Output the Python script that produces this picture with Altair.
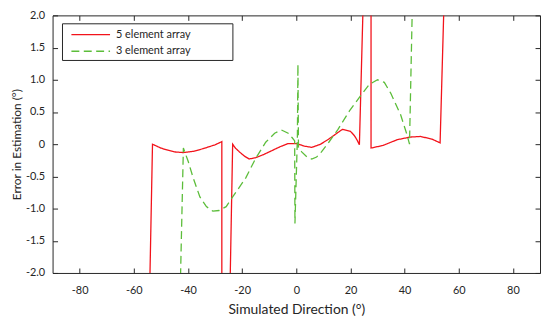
import altair as alt
import pandas as pd

names = ["5 element array", "3 element array"]
colors = ["#f2131b", "#5cbd3a"]

red_x = [-54.05, -53.1, -50, -47.8, -45, -41.7, -38, -34.4, -30, -27.5, -27.5,
         -24.4, -23.5, -22.5, -21, -19, -17.4, -15, -12, -10, -6, -3, 0, 3, 5.7,
         9, 12, 15, 17, 20, 21.5, 22.5, 23.3, 24.6, 27.6, 27.6, 32, 37.3, 42,
         45.8, 50, 53.1, 54.45]
red_y = [-2.05, 0.0, -0.06, -0.09, -0.12, -0.13, -0.11, -0.07, -0.01, 0.04, -2.05,
         -2.05, 0.0, -0.06, -0.12, -0.19, -0.23, -0.21, -0.16, -0.12, -0.04, 0.01, 0.01, -0.03, -0.05,
         0.0, 0.08, 0.17, 0.23, 0.2, 0.13, 0.06, -0.01, 2.05, 2.05, -0.06, -0.02, 0.07, 0.11,
         0.12, 0.08, 0.02, 2.05]

green_x = [-42.75, -41.7, -39.9, -38.1, -35.6, -33.2, -30.8, -28.5, -25.9, -23.5,
           -18.6, -15, -11.3, -8, -5.5, -3, -1.5, -0.6, -0.5, 0.4, 0.6, 0.8, 2, 4,
           5.7, 7.5, 9.3, 12, 15.4, 19.7, 23.9, 27, 30, 32.5, 34.9, 38.5, 41, 41.8, 42.8]
green_y = [-2.05, -0.06, -0.27, -0.52, -0.82, -0.97, -1.04, -1.03, -0.97, -0.82,
           -0.52, -0.22, 0.03, 0.17, 0.22, 0.17, 0.1, 0.05, -1.23, 0.1, 1.24, -0.05, -0.12, -0.2,
           -0.23, -0.2, -0.12, 0.03, 0.23, 0.52, 0.76, 0.93, 1.0, 0.96, 0.79, 0.46, 0.13, 0.0, 2.05]

x_ticks = [-80, -60, -40, -20, 0, 20, 40, 60, 80]
y_ticks = [-2.0, -1.5, -1.0, -0.5, 0.0, 0.5, 1.0, 1.5, 2.0]

rows = []
for i, (a, b) in enumerate(zip(red_x, red_y)):
    rows.append({"x": a, "y": b, "series": names[0], "i": i})
for i, (a, b) in enumerate(zip(green_x, green_y)):
    rows.append({"x": a, "y": b, "series": names[1], "i": i})
df = pd.DataFrame(rows)

FONT = "Lato"
TXT = "#262626"

xscale = alt.Scale(domain=[-90, 90], nice=False, zero=False)
yscale = alt.Scale(domain=[-2, 2], nice=False, zero=False)

legend_props = dict(
    orient="none", legendX=10, legendY=9, title=None,
    symbolType="stroke", symbolSize=1521, symbolStrokeWidth=1.3,
    clipHeight=11, rowPadding=4.7, padding=5, symbolOffset=3, labelOffset=5,
    labelFont=FONT, labelFontSize=11, labelColor=TXT,
)

# legend frame (decoration, in pixels of the plot area)
frame = alt.Chart(pd.DataFrame({"k": [0]})).mark_rect(
    fill="white", stroke=TXT, strokeWidth=1
).encode(x=alt.value(10), x2=alt.value(182), y=alt.value(8.5), y2=alt.value(45.5))

lines = alt.Chart(df).mark_line(clip=True, strokeWidth=1.3).encode(
    x=alt.X("x:Q", scale=xscale, axis=alt.Axis(
        orient="bottom", values=x_ticks, offset=-5, tickSize=5, domain=False, grid=False,
        tickColor=TXT, labelPadding=12, labelFont=FONT, labelFontSize=11, labelColor=TXT,
        labelExpr="(datum.value < 0 ? '-' : '') + abs(datum.value)",
        title="Simulated Direction (°)", titleFont=FONT, titleFontSize=14,
        titleFontWeight="normal", titleColor=TXT, titlePadding=7)),
    y=alt.Y("y:Q", scale=yscale, axis=alt.Axis(
        orient="left", values=y_ticks, offset=-5, tickSize=5, domain=False, grid=False,
        tickColor=TXT, labelPadding=8, labelFont=FONT, labelFontSize=11, labelColor=TXT,
        labelExpr="datum.value == 0 ? '0' : (datum.value < 0 ? '-' : '') + format(abs(datum.value), '.1f')",
        title="Error in Estimation (°)", titleFont=FONT, titleFontSize=12,
        titleFontWeight="normal", titleColor=TXT, titlePadding=2)),
    color=alt.Color("series:N", scale=alt.Scale(domain=names, range=colors),
                    legend=alt.Legend(**legend_props)),
    strokeDash=alt.StrokeDash("series:N", scale=alt.Scale(domain=names, range=[[1, 0], [8, 4.5]]),
                              legend=alt.Legend(**legend_props)),
    order=alt.Order("i:Q"),
)

ghost = alt.Chart(df).mark_point(opacity=0).encode(
    x=alt.X("x:Q", scale=xscale, axis=alt.Axis(
        orient="top", values=x_ticks, offset=-5, tickSize=5, domain=False, grid=False,
        tickColor=TXT, labels=False, title=None)),
    y=alt.Y("y:Q", scale=yscale, axis=alt.Axis(
        orient="right", values=y_ticks, offset=-5, tickSize=5, domain=False, grid=False,
        tickColor=TXT, labels=False, title=None)),
)

chart = alt.layer(frame, lines, ghost).resolve_scale(x="independent", y="independent").properties(
    width=492, height=260,
    autosize=alt.AutoSizeParams(type="none"),
    padding={"left": 45, "top": 6, "right": 2, "bottom": 44},
    background="white",
).configure_view(stroke=TXT, strokeWidth=1)

chart.save("out.html", embed_options={"renderer": "svg", "actions": False})
